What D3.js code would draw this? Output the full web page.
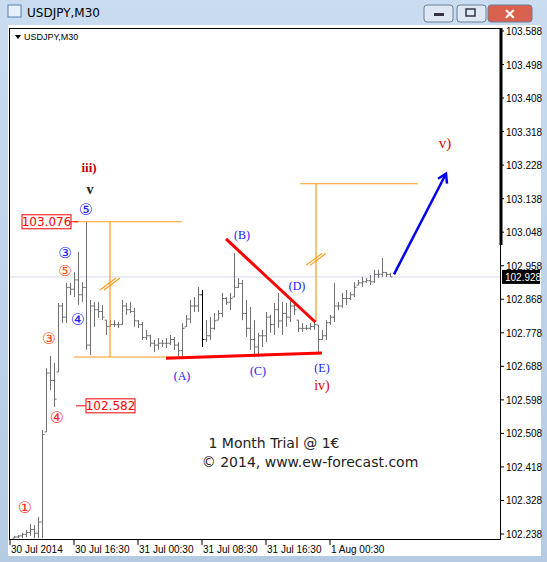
<!DOCTYPE html>
<html><head><meta charset="utf-8">
<script src="https://cdn.jsdelivr.net/npm/d3@7"></script>
<style>body{margin:0;background:#b9d1ea;}svg{display:block;font-family:"Liberation Sans",sans-serif;}</style>
</head><body><svg id="c" width="547" height="562"></svg>
<script>
const highs=[102.233,102.235,102.241,102.249,102.265,102.262,102.284,102.517,102.683,102.716,102.697,102.858,102.858,102.912,102.912,102.941,102.995,102.914,103.076,102.866,102.861,102.861,102.853,102.812,102.812,102.812,102.807,102.866,102.858,102.861,102.845,102.812,102.807,102.786,102.772,102.759,102.764,102.759,102.764,102.772,102.767,102.753,102.804,102.826,102.866,102.874,102.901,102.893,102.812,102.820,102.831,102.839,102.885,102.874,102.885,102.992,102.925,102.920,102.866,102.847,102.812,102.778,102.786,102.834,102.826,102.858,102.885,102.861,102.858,102.866,102.858,102.812,102.804,102.799,102.804,102.812,102.799,102.786,102.812,102.826,102.912,102.861,102.885,102.893,102.888,102.914,102.920,102.928,102.925,102.933,102.947,102.947,102.979,102.941,102.939];
const lows=[102.227,102.227,102.227,102.230,102.233,102.227,102.227,102.227,102.512,102.624,102.579,102.673,102.804,102.804,102.879,102.874,102.853,102.861,102.732,102.718,102.794,102.818,102.812,102.772,102.794,102.794,102.791,102.799,102.826,102.831,102.794,102.791,102.759,102.759,102.740,102.726,102.732,102.740,102.737,102.745,102.732,102.710,102.710,102.794,102.804,102.834,102.834,102.740,102.753,102.759,102.786,102.812,102.820,102.853,102.839,102.874,102.898,102.812,102.767,102.732,102.713,102.713,102.740,102.753,102.778,102.772,102.791,102.772,102.794,102.807,102.826,102.780,102.780,102.786,102.786,102.786,102.726,102.759,102.759,102.799,102.807,102.839,102.845,102.853,102.866,102.874,102.906,102.901,102.912,102.906,102.912,102.925,102.928,102.928,102.928];
const closes=[102.230,102.233,102.237,102.242,102.250,102.240,102.270,102.505,102.670,102.650,102.600,102.850,102.820,102.900,102.895,102.920,102.880,102.900,102.745,102.850,102.840,102.835,102.820,102.795,102.800,102.800,102.800,102.850,102.840,102.835,102.810,102.800,102.765,102.770,102.750,102.745,102.750,102.750,102.750,102.760,102.745,102.730,102.790,102.815,102.850,102.850,102.880,102.760,102.770,102.790,102.810,102.830,102.870,102.860,102.870,102.900,102.910,102.830,102.790,102.760,102.740,102.770,102.770,102.820,102.800,102.840,102.810,102.830,102.820,102.850,102.840,102.790,102.790,102.790,102.795,102.800,102.760,102.770,102.805,102.820,102.850,102.850,102.870,102.870,102.880,102.900,102.912,102.915,102.918,102.915,102.935,102.935,102.940,102.935,102.928];
const yTicks=["103.588","103.498","103.408","103.318","103.228","103.138","103.048","102.958","102.868","102.778","102.688","102.598","102.508","102.418","102.328","102.238"];
const xLabels=["30 Jul 2014","30 Jul 16:30","31 Jul 00:30","31 Jul 08:30","31 Jul 16:30","1 Aug 00:30"];
const xLabelIdx=[-1,15,31,47,63,79];
const lastPrice=102.928, high5=103.076, low4=102.582, targetHigh=103.178, boxLow=102.713;

const svg=d3.select("#c");
const x=d3.scaleLinear().domain([0,94]).range([14,390]);
const y=d3.scaleLinear().domain([102.238,103.588]).range([534,31]);
const g0=svg.append("defs").append("linearGradient").attr("id","tb").attr("x1",0).attr("x2",0).attr("y1",0).attr("y2",1);
g0.append("stop").attr("offset",0).attr("stop-color","#c9dcf0");g0.append("stop").attr("offset",1).attr("stop-color","#b4cbe4");
svg.append("rect").attr("width",547).attr("height",562).attr("fill","url(#tb)");
svg.append("text").attr("x",27).attr("y",17).attr("font-size",12).attr("font-family","DejaVu Sans").attr("fill","#000").text("USDJPY,M30");
svg.append("rect").attr("x",8).attr("y",5).attr("width",13).attr("height",12).attr("fill","#e8f0fa").attr("stroke","#5580b0");
[[424,"#dde8f4"],[457,"#dde8f4"],[488,"#d8604c"]].forEach(([bx,c],i)=>{svg.append("rect").attr("x",bx).attr("y",5).attr("width",i==2?44:29).attr("height",17).attr("rx",3).attr("fill",c).attr("stroke","#6a7f99");});
svg.append("rect").attr("x",434).attr("y",13).attr("width",10).attr("height",3).attr("fill","#334");
svg.append("rect").attr("x",466).attr("y",9).attr("width",9).attr("height",7).attr("fill","none").attr("stroke","#334").attr("stroke-width",1.5);
svg.append("text").attr("x",510).attr("y",19).attr("text-anchor","middle").attr("font-size",14).attr("font-weight","bold").attr("fill","#fff").text("✕");
svg.append("rect").attr("x",8).attr("y",25).attr("width",533).attr("height",531).attr("fill","#fff");
svg.append("line").attr("x1",9).attr("x2",500).attr("y1",y(lastPrice)).attr("y2",y(lastPrice)).attr("stroke","#d6d6ec");
svg.append("line").attr("x1",9.5).attr("x2",9.5).attr("y1",28).attr("y2",539).attr("stroke","#000");
svg.append("line").attr("x1",9).attr("x2",500).attr("y1",28.5).attr("y2",28.5).attr("stroke","#000");
svg.append("line").attr("x1",9).attr("x2",501).attr("y1",539.5).attr("y2",539.5).attr("stroke","#000");
svg.append("line").attr("x1",500.5).attr("x2",500.5).attr("y1",28).attr("y2",540).attr("stroke","#000");
svg.append("line").attr("x1",501).attr("x2",501).attr("y1",28).attr("y2",245).attr("stroke","#000").attr("stroke-width",3);
yTicks.forEach(t=>{const v=+t;svg.append("line").attr("x1",500).attr("x2",504).attr("y1",y(v)).attr("y2",y(v)).attr("stroke","#000");
 svg.append("text").attr("x",506).attr("y",y(v)+4).attr("font-size",10).attr("fill","#000").text(t);});
svg.append("rect").attr("x",502).attr("y",y(lastPrice)-7).attr("width",38).attr("height",14).attr("fill","#000");
svg.append("text").attr("x",505).attr("y",y(lastPrice)+4).attr("font-size",10).attr("fill","#fff").text(lastPrice.toFixed(3));
xLabels.forEach((l,i)=>{const xx=x(xLabelIdx[i]);svg.append("line").attr("x1",xx).attr("x2",xx).attr("y1",540).attr("y2",545).attr("stroke","#000");
 svg.append("text").attr("x",xx+1).attr("y",553).attr("font-size",10).attr("fill","#000").text(l);});
const bars=svg.append("g");
highs.forEach((h,i)=>{const xx=Math.round(x(i))+0.5;const o=i?closes[i-1]:lows[i];const op=Math.max(lows[i],Math.min(h,o));
 const c=i==47?"#000":"#707070";
 bars.append("line").attr("x1",xx).attr("x2",xx).attr("y1",y(h)).attr("y2",y(lows[i])).attr("stroke",c);
 bars.append("line").attr("x1",xx-2).attr("x2",xx).attr("y1",y(op)).attr("y2",y(op)).attr("stroke",c);
 bars.append("line").attr("x1",xx).attr("x2",xx+2).attr("y1",y(closes[i])).attr("y2",y(closes[i])).attr("stroke",c);});
svg.append("path").attr("d","M15,35 L21,35 L18,39 Z").attr("fill","#000");
svg.append("text").attr("x",24).attr("y",40).attr("font-size",9).attr("fill","#000").text("USDJPY,M30");
const or="#ff9a1a";
const ol=(x1,y1,x2,y2)=>svg.append("line").attr("x1",x1).attr("y1",y1).attr("x2",x2).attr("y2",y2).attr("stroke",or).attr("stroke-width",1.2);
ol(x(15),y(high5),x(42),y(high5));ol(x(15),y(boxLow),x(42),y(boxLow));ol(x(24),y(high5),x(24),y(boxLow));
ol(x(21.5),y(102.893),x(25.5),y(102.925));ol(x(22.5),y(102.893),x(26.5),y(102.925));
ol(x(71.5),y(targetHigh),x(101),y(targetHigh));ol(x(75.5),y(targetHigh),x(75.5),y(102.807));
ol(x(73),y(102.959),x(77),y(102.991));ol(x(74),y(102.959),x(78),y(102.991));
const rl=(a,b,c,d)=>svg.append("line").attr("x1",x(a)).attr("y1",y(b)).attr("x2",x(c)).attr("y2",y(d)).attr("stroke","#f00").attr("stroke-width",3);
rl(38,102.710,77,102.724);rl(53,103.030,75.3,102.807);
const ax1=x(95),ay1=y(102.935),ax2=x(108),ay2=y(103.205);
svg.append("line").attr("x1",ax1).attr("y1",ay1).attr("x2",ax2).attr("y2",ay2).attr("stroke","#0000ee").attr("stroke-width",2.5);
svg.append("path").attr("d",`M${ax2-8},${ay2+5} L${ax2},${ay2} L${ax2+1},${ay2+10}`).attr("fill","none").attr("stroke","#0000ee").attr("stroke-width",2.5);
const pbox=(bx,by,t,lx1,lx2)=>{svg.append("line").attr("x1",lx1).attr("x2",lx2).attr("y1",by).attr("y2",by).attr("stroke","#f00");
 svg.append("rect").attr("x",bx).attr("y",by-7).attr("width",49).attr("height",14).attr("fill","#fff").attr("stroke","#f00");
 svg.append("text").attr("x",bx+24.5).attr("y",by+4.5).attr("text-anchor","middle").attr("font-size",12).attr("font-family","DejaVu Sans").attr("fill","#f00").text(t);};
pbox(22,y(high5),high5.toFixed(3),71,x(16));
pbox(86,y(low4),low4.toFixed(3),76,86);
const lab=(t,lx,ly,c,fs,ff)=>svg.append("text").attr("x",lx).attr("y",ly).attr("text-anchor","middle").attr("font-size",fs||12).attr("font-family",ff||"DejaVu Sans").attr("fill",c).text(t);
const R="#ff2a2a",O="#ff5020",B="#2020ff";
lab("①",25,513,R,16);lab("④",57,423,R,16);lab("③",49,344,O,16);lab("⑤",65,276,O,15);
lab("③",65,258,B,15);lab("⑤",86,215,B,16);lab("④",78,325,B,16);
lab("iii)",89,172,"#c00000",13,"Liberation Serif").attr("font-weight","bold");
lab("v",90,194,"#222",14,"Liberation Serif").attr("font-weight","bold");
[["(A)",182,380],["(B)",242,239],["(C)",258,375],["(D)",297,290],["(E)",322,372]].forEach(d=>lab(d[0],d[1],d[2],B,12,"Liberation Serif"));
lab("iv)",322,390,"#e00000",14,"Liberation Serif");
lab("v)",445,148,"#e00000",15,"Liberation Serif");
lab("1 Month Trial @ 1€",274,448,"#222",14,"DejaVu Sans");
lab("© 2014, www.ew-forecast.com",310,467,"#222",14,"DejaVu Sans");
</script></body></html>
